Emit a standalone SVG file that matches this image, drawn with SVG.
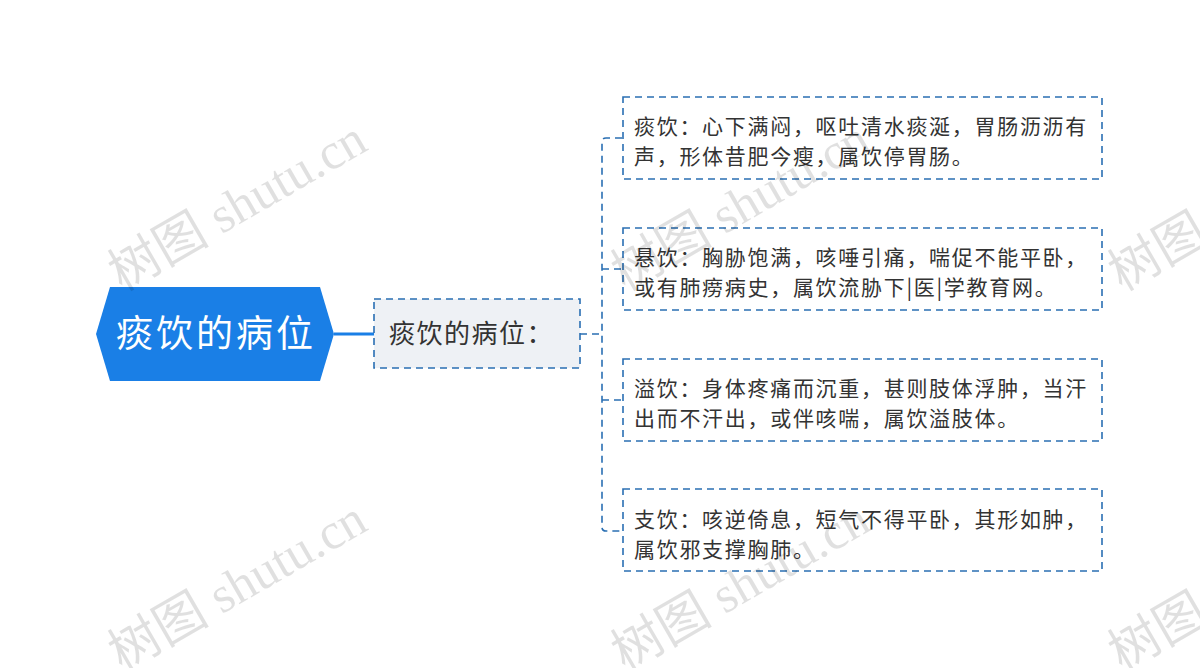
<svg xmlns="http://www.w3.org/2000/svg" width="1200" height="668" viewBox="0 0 1200 668">
<style>
.wm{font-family:"Liberation Serif","Noto Sans CJK SC",serif;font-size:51px;fill:#000;fill-opacity:0.12}
.leaf rect{fill:#ffffff;stroke:#2a6fb3;stroke-width:1.6;stroke-dasharray:7 5}
.lt{font-family:"Noto Sans CJK SC","Noto Sans",sans-serif;font-size:21px;letter-spacing:1.7px;fill:#333333}
.dash{fill:none;stroke:#2a6fb3;stroke-width:1.6;stroke-dasharray:7 5}
</style>
<rect width="1200" height="668" fill="#ffffff"/>
<g id="connectors">
<line x1="334" y1="334" x2="374" y2="334" stroke="#1a7fe6" stroke-width="3"/>
<path class="dash" d="M580,334 H602"/>
<path class="dash" d="M622,138 H606 Q602,138 602,142 V527 Q602,531 606,531 H622"/>
<path class="dash" d="M602,269 H622 M602,400 H622"/>
</g>
<g id="root">
<polygon points="96,334 110,287 320,287 334,334 320,381 110,381" fill="#1a7fe6"/>
<text x="116" y="347" font-family="Noto Sans CJK SC,sans-serif" font-size="37" letter-spacing="3" fill="#ffffff">痰饮的病位</text>
</g>
<g id="sub">
<rect x="374" y="299" width="206" height="69" fill="#eef1f5" stroke="#2a6fb3" stroke-width="1.6" stroke-dasharray="7 5"/>
<text x="389" y="343" font-family="Noto Sans CJK SC,sans-serif" font-size="26" letter-spacing="1.5" fill="#333333">痰饮的病位：</text>
</g>
<g id="leaf1" class="leaf">
<rect x="623" y="97" width="479" height="82"/>
<text class="lt" x="634" y="134">痰饮：心下满闷，呕吐清水痰涎，胃肠沥沥有</text>
<text class="lt" x="634" y="164">声，形体昔肥今瘦，属饮停胃肠。</text>
</g>
<g id="leaf2" class="leaf">
<rect x="623" y="228" width="479" height="82"/>
<text class="lt" x="634" y="265">悬饮：胸胁饱满，咳唾引痛，喘促不能平卧，</text>
<text class="lt" x="634" y="295">或有肺痨病史，属饮流胁下|医|学教育网。</text>
</g>
<g id="leaf3" class="leaf">
<rect x="623" y="359" width="479" height="82"/>
<text class="lt" x="634" y="396">溢饮：身体疼痛而沉重，甚则肢体浮肿，当汗</text>
<text class="lt" x="634" y="426">出而不汗出，或伴咳喘，属饮溢肢体。</text>
</g>
<g id="leaf4" class="leaf">
<rect x="623" y="489" width="479" height="82"/>
<text class="lt" x="634" y="527">支饮：咳逆倚息，短气不得平卧，其形如肿，</text>
<text class="lt" x="634" y="557">属饮邪支撑胸肺。</text>
</g>
<g id="watermarks">
<text class="wm" transform="translate(122,292) rotate(-30)">树图 shutu.cn</text>
<text class="wm" transform="translate(625,292) rotate(-30)">树图 shutu.cn</text>
<text class="wm" transform="translate(1122,292) rotate(-30)">树图 shutu.cn</text>
<text class="wm" transform="translate(122,672) rotate(-30)">树图 shutu.cn</text>
<text class="wm" transform="translate(625,672) rotate(-30)">树图 shutu.cn</text>
<text class="wm" transform="translate(1122,672) rotate(-30)">树图 shutu.cn</text>
</g>
</svg>
